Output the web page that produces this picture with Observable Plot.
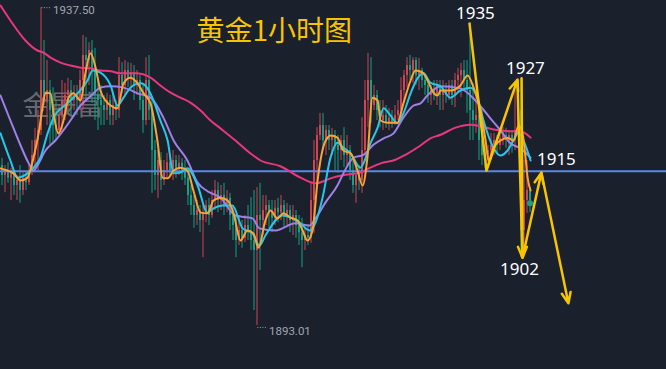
<!DOCTYPE html>
<html><head><meta charset="utf-8">
<script src="https://cdn.jsdelivr.net/npm/d3@7"></script>
<script src="https://cdn.jsdelivr.net/npm/@observablehq/plot@0.6"></script>
<style>html,body{margin:0;padding:0;background:#1b202d;overflow:hidden}#chart svg{display:block}</style>
</head><body><div id="chart"></div>
<script>
const title = "黄金1小时图";
const watermark = "金晟富";

const opens = [
1915.4,1914.0,1914.7,1913.6,1914.4,1912.6,1913.3,1911.9,1913.6,1913.0,
1914.7,1916.8,1918.9,1920.3,1927.3,1924.5,1925.9,1923.1,1921.0,1920.3,
1922.4,1924.5,1925.2,1925.9,1924.5,1925.2,1924.5,1927.3,1930.8,1930.1,
1931.5,1928.7,1925.2,1924.5,1923.8,1923.1,1924.5,1922.4,1923.8,1923.1,
1928.0,1926.6,1928.7,1927.6,1928.4,1926.6,1927.3,1924.5,1921.7,1927.3,
1923.1,1917.5,1914.0,1916.1,1913.3,1914.7,1915.8,1914.7,1916.1,1915.0,
1915.7,1914.7,1913.6,1911.2,1909.8,1908.4,1909.1,1907.7,1908.8,1909.8,
1908.4,1910.5,1911.9,1910.5,1911.2,1909.8,1910.8,1908.4,1907.0,1904.9,
1906.3,1905.2,1907.0,1906.0,1904.9,1903.5,1908.4,1907.7,1909.1,1909.8,
1908.8,1908.0,1909.4,1908.8,1909.8,1908.4,1909.1,1907.7,1908.4,1907.0,
1906.0,1904.9,1905.6,1905.2,1910.5,1916.1,1919.6,1921.0,1918.9,1920.3,
1918.9,1919.6,1918.2,1917.5,1918.9,1916.8,1917.5,1914.7,1912.6,1914.0,
1913.3,1917.5,1924.5,1927.3,1923.8,1925.2,1923.1,1921.7,1922.4,1921.4,
1922.0,1921.4,1922.4,1923.1,1925.9,1928.0,1929.4,1928.7,1930.1,1928.0,
1928.7,1927.3,1926.6,1925.2,1925.9,1925.2,1926.6,1925.2,1925.9,1925.2,
1926.6,1925.2,1927.3,1928.0,1928.7,1927.3,1925.9,1923.1,1921.7,1922.4,
1918.9,1916.8,1916.1,1917.5,1918.2,1918.9,1918.2,1919.2,1919.6,1918.9,
1919.6,1918.9,1920.3,1923.1,1906.3,1910.5,1911.9];
const closes = [
1914.0,1914.7,1913.6,1914.4,1912.6,1913.3,1911.9,1913.6,1913.0,1914.7,
1916.8,1918.9,1920.3,1927.3,1924.5,1925.9,1923.1,1921.0,1920.3,1922.4,
1924.5,1925.2,1925.9,1924.5,1925.2,1924.5,1927.3,1930.8,1930.1,1931.5,
1928.7,1925.2,1924.5,1923.8,1923.1,1924.5,1922.4,1923.8,1923.1,1928.0,
1926.6,1928.7,1927.6,1928.4,1926.6,1927.3,1924.5,1921.7,1927.3,1923.1,
1917.5,1914.0,1916.1,1913.3,1914.7,1915.8,1914.7,1916.1,1915.0,1915.7,
1914.7,1913.6,1911.2,1909.8,1908.4,1909.1,1907.7,1908.8,1909.8,1908.4,
1910.5,1911.9,1910.5,1911.2,1909.8,1910.8,1908.4,1907.0,1904.9,1906.3,
1905.2,1907.0,1906.0,1904.9,1903.5,1908.4,1907.7,1909.1,1909.8,1908.8,
1908.0,1909.4,1908.8,1909.8,1908.4,1909.1,1907.7,1908.4,1907.0,1906.0,
1904.9,1905.6,1905.2,1910.5,1916.1,1919.6,1921.0,1918.9,1920.3,1918.9,
1919.6,1918.2,1917.5,1918.9,1916.8,1917.5,1914.7,1912.6,1914.0,1913.3,
1917.5,1924.5,1927.3,1923.8,1925.2,1923.1,1921.7,1922.4,1921.4,1922.0,
1921.4,1922.4,1923.1,1925.9,1928.0,1929.4,1928.7,1930.1,1928.0,1928.7,
1927.3,1926.6,1925.2,1925.9,1925.2,1926.6,1925.2,1925.9,1925.2,1926.6,
1925.2,1927.3,1928.0,1928.7,1927.3,1925.9,1923.1,1921.7,1922.4,1918.9,
1916.8,1916.1,1917.5,1918.2,1918.9,1918.2,1919.2,1919.6,1918.9,1919.6,
1918.9,1920.3,1923.1,1906.3,1910.5,1911.9,1910.1];
const highs = [
1916.4,1915.4,1915.8,1915.0,1914.7,1914.0,1915.4,1914.4,1914.4,1915.4,
1918.9,1920.6,1923.1,1937.5,1932.9,1930.1,1927.3,1926.3,1924.5,1923.8,
1927.3,1926.9,1927.6,1927.3,1926.6,1926.6,1928.7,1933.6,1933.3,1932.6,
1932.9,1931.8,1927.3,1926.6,1925.2,1925.5,1925.2,1925.5,1924.5,1930.5,
1929.8,1930.1,1929.8,1929.7,1929.4,1928.7,1928.0,1926.9,1930.5,1930.8,
1924.5,1918.9,1917.5,1917.2,1916.1,1917.1,1916.8,1917.5,1916.8,1916.8,
1916.4,1916.1,1914.7,1912.6,1911.2,1910.5,1909.8,1909.8,1910.5,1910.8,
1911.9,1913.3,1913.0,1912.6,1912.9,1911.9,1911.5,1909.8,1908.4,1908.4,
1907.7,1908.4,1909.8,1910.9,1911.9,1912.3,1912.9,1911.2,1911.2,1910.5,
1910.5,1910.5,1910.8,1911.2,1910.5,1910.1,1909.8,1909.8,1909.1,1908.4,
1908.0,1906.6,1907.0,1912.9,1918.9,1920.7,1922.7,1922.7,1921.0,1921.0,
1920.6,1920.3,1919.6,1919.6,1920.7,1919.6,1918.2,1916.1,1915.4,1915.4,
1922.1,1927.3,1931.1,1930.5,1926.6,1925.9,1924.5,1924.5,1923.8,1923.4,
1923.1,1923.8,1924.5,1927.7,1928.7,1930.5,1930.8,1930.5,1930.5,1930.4,
1929.0,1928.0,1927.3,1926.6,1927.3,1927.3,1927.3,1927.3,1926.9,1927.3,
1927.3,1928.3,1929.0,1929.7,1930.1,1930.1,1935.4,1926.9,1925.5,1923.8,
1923.1,1917.9,1918.2,1919.9,1919.9,1919.6,1920.3,1920.7,1920.6,1920.3,
1920.3,1925.9,1927.6,1927.6,1916.1,1916.1,1912.3];
const lows = [
1912.6,1911.6,1912.9,1910.5,1911.2,1910.5,1910.1,1911.2,1911.9,1912.6,
1914.0,1915.1,1914.7,1919.6,1923.8,1921.0,1918.2,1918.5,1918.9,1919.6,
1919.9,1921.7,1923.1,1922.4,1923.1,1922.4,1923.1,1923.1,1924.5,1926.6,
1924.1,1921.7,1920.3,1921.0,1921.0,1921.7,1921.0,1921.0,1921.7,1922.0,
1925.5,1925.2,1926.3,1925.9,1924.5,1925.2,1923.1,1919.9,1921.0,1921.7,
1911.5,1911.9,1910.8,1911.9,1912.6,1913.6,1914.0,1913.3,1913.6,1914.0,
1913.3,1912.6,1909.8,1908.4,1906.6,1907.0,1906.0,1902.5,1907.4,1907.0,
1908.0,1909.1,1908.8,1909.1,1908.4,1908.8,1906.3,1904.9,1902.5,1904.2,
1903.8,1904.6,1904.9,1903.5,1895.1,1893.01,1900.7,1905.6,1907.0,1906.6,
1906.0,1907.0,1907.4,1907.7,1906.6,1907.0,1906.0,1905.6,1905.2,1904.2,
1901.1,1903.5,1904.2,1904.5,1905.9,1912.3,1918.9,1917.5,1916.8,1917.5,
1916.8,1914.7,1914.3,1916.1,1915.1,1915.4,1913.3,1911.5,1910.1,1911.9,
1911.5,1916.8,1920.7,1921.3,1923.1,1921.7,1920.7,1920.3,1920.6,1920.3,
1920.6,1921.0,1921.7,1922.1,1924.5,1926.3,1927.3,1926.9,1926.6,1925.9,
1926.2,1925.2,1924.1,1923.8,1924.5,1923.8,1923.1,1923.1,1924.1,1924.5,
1923.8,1923.5,1925.6,1924.9,1925.9,1922.7,1918.9,1918.9,1919.9,1916.1,
1915.4,1915.0,1915.4,1916.1,1916.8,1917.2,1917.5,1918.2,1917.8,1916.8,
1917.1,1917.5,1919.6,1902.5,1902.5,1908.7,1908.8];

// moving averages [hour index, price]
const ma5 = [[0,1915.0],[2.3,1914.7],[4.3,1914.3],[6.7,1913.3],[9,1913.7],[11,1916.5],[12.7,1919.9],[14,1923.5],[15,1925.6],[16.7,1925.5],[17.7,1922.7],[19.3,1919.9],[21,1921.7],[22.7,1924.9],[24.3,1925.5],[26.7,1924.5],[28.3,1928.3],[30,1931.1],[31.7,1929.1],[33.3,1925.9],[35,1924.5],[36.7,1923.8],[39,1923.4],[41,1926.9],[43.3,1927.7],[45.7,1926.9],[47.7,1925.5],[50,1924.1],[52.3,1918.9],[54,1913.7],[55.7,1913.6],[57.7,1914.7],[60,1915.1],[62.3,1914.7],[64.3,1911.9],[66.7,1908.8],[69,1908.7],[71,1910.5],[73.3,1910.9],[75.7,1910.5],[77.7,1908.7],[80,1904.9],[82.3,1906.3],[84.3,1905.9],[86,1903.9],[88.3,1907.7],[90,1909.1],[92.3,1908.0],[94.3,1908.7],[96.7,1908.1],[99,1907.7],[100.7,1906.3],[102.3,1904.9],[104,1906.3],[105.7,1913.3],[107.3,1917.5],[109,1919.3],[110,1919.6],[112.3,1919.3],[114.3,1917.5],[116.7,1917.1],[119,1914.7],[120.7,1912.6],[122.3,1916.5],[124,1924.9],[125.7,1924.5],[126.7,1921.7],[129,1921.4],[132.3,1921.4],[134.3,1924.1],[136.7,1927.3],[138.3,1928.7],[140.7,1928.4],[142.7,1927.0],[144.3,1925.6],[145.7,1925.2],[146.7,1925.9],[150,1925.9],[153.3,1926.6],[155.7,1928.0],[157.7,1926.3],[160,1923.1],[161.7,1918.9],[162.7,1916.1],[164.3,1917.9],[166.7,1918.9],[169,1919.3],[171,1918.9],[172.7,1921.0],[174,1919.9],[175,1916.5],[175.7,1913.7],[176.7,1911.9]];
const ma10 = [[0,1919.9],[3.3,1916.1],[5.7,1913.7],[9,1914.3],[11,1915.1],[13.3,1916.5],[15.7,1919.9],[17.7,1922.1],[22.3,1924.1],[25.7,1925.5],[29,1927.3],[30.7,1928.7],[33.3,1928.4],[36.7,1926.6],[39,1923.8],[41,1924.9],[43.3,1926.3],[46.7,1926.9],[49,1926.2],[51,1924.5],[53.3,1921.7],[55.7,1918.9],[57.7,1914.3],[60,1914.4],[62.3,1915.0],[65.7,1912.6],[69,1908.8],[71,1909.4],[74,1909.8],[77.3,1909.8],[80.7,1906.6],[84,1905.9],[86.3,1904.2],[88.3,1905.6],[94,1908.4],[99.7,1907.4],[103,1906.3],[105,1907.4],[107.3,1910.8],[110,1916.5],[112.3,1918.6],[114.3,1917.9],[116.7,1917.1],[120,1915.1],[121,1915.7],[123.3,1918.5],[125.7,1920.7],[127.7,1923.4],[130,1922.4],[132.3,1921.3],[134.3,1922.7],[136.7,1925.5],[139,1927.6],[141,1928.3],[143.3,1927.0],[146.7,1926.5],[150,1924.9],[153.3,1925.9],[156.7,1926.3],[159,1924.9],[161,1921.7],[164.3,1917.9],[166.7,1916.8],[169,1917.5],[171,1918.9],[172.7,1920.0],[174.3,1918.9],[176.7,1916.1]];
const ma20 = [[0,1925.2],[3.3,1921.7],[6.7,1918.2],[9.3,1915.8],[11,1914.7],[12.3,1915.4],[15,1917.5],[18.3,1918.9],[23.3,1921.7],[26.7,1923.8],[30,1925.1],[33.3,1926.3],[36.7,1926.5],[41,1926.3],[45.7,1925.5],[50,1924.9],[54.3,1922.1],[57.7,1918.9],[62.3,1916.1],[65.7,1913.0],[69,1911.8],[73.3,1910.9],[78.3,1908.4],[84,1908.0],[86.3,1906.6],[91.7,1906.3],[98.3,1907.3],[103,1907.0],[105,1908.0],[108.3,1910.2],[112.3,1912.6],[114.3,1914.3],[117.7,1916.5],[121,1916.9],[124.3,1918.3],[127.7,1919.2],[131,1919.9],[134.3,1922.1],[137.7,1923.8],[140,1924.1],[142.3,1925.2],[146.7,1926.5],[153.3,1926.2],[158.3,1924.5],[163.3,1922.0],[166.7,1920.3],[170,1918.5],[173.3,1917.8],[176.7,1916.5]];
const ma60 = [[0,1937.8],[3.3,1935.7],[8.3,1932.9],[12.3,1931.5],[14.3,1931.2],[16.7,1930.5],[20,1929.8],[23.3,1929.4],[26.7,1929.1],[30,1929.0],[33.3,1928.7],[36.7,1928.6],[40,1928.3],[45,1928.3],[50,1927.7],[53.3,1926.6],[56.7,1925.6],[60,1924.9],[63.3,1924.2],[66.7,1923.1],[70,1921.7],[73.3,1920.6],[78.3,1918.9],[83.3,1917.1],[86.7,1916.1],[93.3,1915.3],[100,1913.7],[105,1912.9],[108.3,1913.3],[110,1913.6],[115,1914.1],[120,1914.4],[123.3,1915.1],[126.7,1915.7],[131.7,1916.2],[135,1916.9],[140,1918.2],[143.3,1919.2],[146.7,1919.7],[151.7,1920.7],[156.7,1921.1],[160,1920.9],[165,1920.4],[170,1920.2],[173.3,1920.2],[176.7,1919.3]];

const supportLevel = 1914.6;
// forecast path key points
const pathT = [156.3, 162, 172.3, 173.7, 174, 180.3, 189.3];
const pathP = [1935.4, 1914.7, 1927.4, 1927.6, 1902.5, 1914.4, 1896.1];
const levelLabels = ["1935", "1927", "1915", "1902"];
const levelPoint = [0, 2, 5, 4];

const UP = "#cf4550", DOWN = "#13a283";
const candles = opens.map((o, i) => ({t: i + 0.5, o, c: closes[i], h: highs[i], l: lows[i]}));
const col = d => d.c >= d.o ? UP : DOWN;
const pts = a => a.map(([t, p]) => ({t, p}));
const hiI = d3.maxIndex(highs), loI = d3.minIndex(lows);
const hiPt = [{t: hiI + 0.5, p: highs[hiI]}];
const loPt = [{t: loI + 0.5, p: lows[loI]}];
const seg = (a, b) => ({t1: pathT[a], p1: pathP[a], t2: pathT[b], p2: pathP[b]});
const plainSegs = [seg(0, 1), seg(2, 4)];
const arrowSegs = [seg(1, 2), seg(3, 4), seg(4, 5), seg(5, 6)];
const lab = k => [{t: pathT[levelPoint[k]], p: pathP[levelPoint[k]], s: levelLabels[k]}];
const labOff = [[6, -9], [8, -11], [15, -13], [-3, 12]];
const fmt = d3.format(".2f");
const gold = "#f8c400";

const chart = Plot.plot({
  width: 666, height: 369, margin: 0,
  x: {domain: [0, 222], axis: null},
  y: {domain: [1886.84, 1938.5], axis: null},
  style: {background: "#1b202d", overflow: "visible"},
  marks: [
    Plot.text([watermark], {frameAnchor: "top-left", text: d => d, dx: 22, dy: 95, textAnchor: "start", lineAnchor: "top", fill: "#65686e", fontSize: 27, fontFamily: "Noto Sans CJK SC"}),
    Plot.ruleX(candles, {x: "t", y1: "l", y2: "h", stroke: col, strokeWidth: 1}),
    Plot.ruleX(candles, {x: "t", y1: "o", y2: "c", stroke: col, strokeWidth: 2}),
    Plot.ruleY([supportLevel], {stroke: "#5c86e4", strokeWidth: 2}),
    Plot.line(pts(ma60), {x: "t", y: "p", stroke: "#e8377c", strokeWidth: 2, curve: "monotone-x"}),
    Plot.line(pts(ma20), {x: "t", y: "p", stroke: "#a07fe6", strokeWidth: 2, curve: "monotone-x"}),
    Plot.line(pts(ma10), {x: "t", y: "p", stroke: "#26c8ea", strokeWidth: 2, curve: "monotone-x"}),
    Plot.line(pts(ma5), {x: "t", y: "p", stroke: "#f9a535", strokeWidth: 2, curve: "monotone-x"}),
    Plot.dot([candles[candles.length - 1]], {x: "t", y: "c", r: 3, fill: DOWN}),
    Plot.ruleY(hiPt, {y: "p", x1: d => d.t + 0.3, x2: d => d.t + 3.6, stroke: "#9aa0a7", strokeWidth: 1, strokeDasharray: "1,1.5"}),
    Plot.text(hiPt, {x: "t", y: "p", text: d => fmt(d.p), dx: 12, dy: 3, textAnchor: "start", fill: "#a2a7ae", fontSize: 11.5, fontFamily: "Roboto"}),
    Plot.ruleY(loPt, {y: "p", x1: d => d.t + 0.3, x2: d => d.t + 3.6, dy: 2, stroke: "#9aa0a7", strokeWidth: 1, strokeDasharray: "1,1.5"}),
    Plot.text(loPt, {x: "t", y: "p", text: d => fmt(d.p), dx: 12, dy: 6, textAnchor: "start", fill: "#a2a7ae", fontSize: 11.5, fontFamily: "Roboto"}),
    Plot.link(plainSegs, {x1: "t1", y1: "p1", x2: "t2", y2: "p2", stroke: gold, strokeWidth: 2.5}),
    Plot.arrow(arrowSegs, {x1: "t1", y1: "p1", x2: "t2", y2: "p2", stroke: gold, strokeWidth: 2.5, headLength: 7, headAngle: 45}),
    ...levelLabels.map((_, k) => Plot.text(lab(k), {x: "t", y: "p", text: "s", dx: labOff[k][0], dy: labOff[k][1], fill: "#ffffff", fontSize: 17, fontFamily: "Noto Sans"})),
    Plot.text([title], {frameAnchor: "top-left", text: d => d, dx: 196, dy: 21, textAnchor: "start", lineAnchor: "top", fill: gold, fontSize: 28, fontFamily: "Noto Sans CJK SC"})
  ]
});
document.getElementById("chart").append(chart);
</script>
</body></html>
